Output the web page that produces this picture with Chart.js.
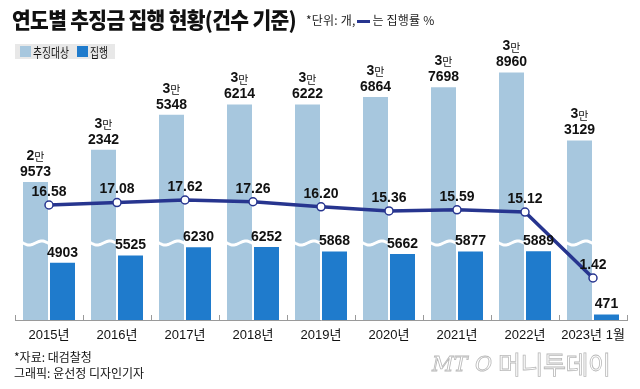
<!DOCTYPE html>
<html>
<head>
<meta charset="utf-8">
<script src="https://cdn.jsdelivr.net/npm/chart.js@4.4.1/dist/chart.umd.min.js"></script>
<style>
  body { margin: 0; background: #fff; }
  #wrap { position: relative; width: 640px; height: 389px; overflow: hidden;
          font-family: "Noto Sans CJK KR", "Noto Sans", sans-serif; color: #111; }
  #chart { position: absolute; left: 0; top: 0; }
  .txt { position: absolute; line-height: 1; white-space: nowrap; transform-origin: left center; }
  #title { left: 12px; top: 7px; font-size: 22px; font-weight: 900; letter-spacing: -0.7px; transform: scaleX(0.925); }
  #unit { left: 306px; top: 14px; font-size: 12px; color: #222; letter-spacing: 0.2px; }
  #unit i { display: inline-block; width: 13px; height: 3px; background: #27358f; vertical-align: middle; margin: 0 2px; }
  #legend { left: 15px; top: 44px; width: 100px; height: 15px; background: #e8e8e8; font-size: 13px; }
  #legend span { position: absolute; top: 1px; transform: scaleX(0.75); transform-origin: left center; }
  #legend b { position: absolute; top: 2px; width: 11px; height: 11px; }
  #src { left: 14px; top: 351px; font-size: 12px; }
  #credit { left: 14px; top: 367px; font-size: 12px; }
  #mark { left: 432px; top: 351px; height: 28px; width: 195px; color: transparent;
          -webkit-text-stroke: 0.8px #b8b8b8; }
  #mark em { position: absolute; top: 3px; font-family: "DejaVu Serif", serif; font-size: 21px; }
  #mark span { position: absolute; left: 66px; top: 0; font-size: 25px; letter-spacing: -0.5px; }
</style>
</head>
<body>
<div id="wrap">
  <canvas id="chart" width="640" height="389"></canvas>
  <div class="txt" id="title">연도별 추징금 집행 현황(건수 기준)</div>
  <div class="txt" id="unit">*단위: 개,<i></i>는 집행률 %</div>
  <div class="txt" id="legend">
    <b style="left:5px;background:#a7c7de"></b><span style="left:18px">추징대상</span>
    <b style="left:62px;background:#1f7bcc"></b><span style="left:75px">집행</span>
  </div>
  <div class="txt" id="src">*자료: 대검찰청</div>
  <div class="txt" id="credit">그래픽: 윤선정 디자인기자</div>
  <div class="txt" id="mark"><em style="left:0">MT</em><em style="left:43px">O</em><span>머니투데이</span></div>
</div>
<script>
const years = ['2015년', '2016년', '2017년', '2018년', '2019년', '2020년', '2021년', '2022년', '2023년 1월'];
const targetCount = [29573, 32342, 35348, 36214, 36222, 36864, 37698, 38960, 33129];
const execCount = [4903, 5525, 6230, 6252, 5868, 5662, 5877, 5889, 471];
const execRate = [16.58, 17.08, 17.62, 17.26, 16.20, 15.36, 15.59, 15.12, 1.42];

// 추징대상 막대는 물결 생략 구간만큼 잘라서 그림
const axisCut = 17750;
const cutAt = 6600;

const numFont = 'bold 14px "Liberation Sans", Arial, sans-serif';

const wavePlugin = {
  id: 'wave',
  afterDatasetDraw(chart, args) {
    if (args.index !== 1) return;
    const ctx = chart.ctx;
    const y = chart.scales.y.getPixelForValue(cutAt);
    args.meta.data.forEach(bar => {
      const l = bar.x - bar.width / 2, r = bar.x + bar.width / 2;
      ctx.save();
      ctx.beginPath();
      ctx.rect(l, y - 8, bar.width, 16);
      ctx.clip();
      ctx.beginPath();
      for (let x = l - 2; x <= r + 2; x++) {
        const yy = y + 2 * Math.sin((x - l) / bar.width * 2 * Math.PI);
        if (x === l - 2) ctx.moveTo(x, yy); else ctx.lineTo(x, yy);
      }
      ctx.strokeStyle = '#fff';
      ctx.lineWidth = 3;
      ctx.stroke();
      ctx.restore();
    });
  }
};

const labelPlugin = {
  id: 'labels',
  afterDraw(chart) {
    const ctx = chart.ctx;
    ctx.save();
    ctx.fillStyle = '#111';
    ctx.textBaseline = 'middle';

    // 집행률
    ctx.font = numFont;
    ctx.textAlign = 'center';
    chart.getDatasetMeta(0).data.forEach((p, i) => {
      ctx.fillText(execRate[i].toFixed(2), p.x, p.y - 13);
    });

    // 집행 건수
    chart.getDatasetMeta(2).data.forEach((bar, i) => {
      ctx.fillText(String(execCount[i]), bar.x, bar.y - 10);
    });

    // 추징대상 건수 (만 단위 두 줄)
    chart.getDatasetMeta(1).data.forEach((bar, i) => {
      const v = targetCount[i];
      const man = String(Math.floor(v / 10000));
      const rest = String(v % 10000).padStart(4, '0');
      ctx.font = numFont;
      ctx.textAlign = 'center';
      ctx.fillText(rest, bar.x, bar.y - 10);
      ctx.textAlign = 'left';
      const w1 = ctx.measureText(man).width;
      ctx.font = '11px "Noto Sans CJK KR", sans-serif';
      const w2 = ctx.measureText('만').width;
      const x0 = bar.x - (w1 + w2) / 2;
      ctx.font = numFont;
      ctx.fillText(man, x0, bar.y - 26);
      ctx.font = '11px "Noto Sans CJK KR", sans-serif';
      ctx.fillText('만', x0 + w1, bar.y - 25);
    });

    // x축 눈금
    const xs = chart.scales.x;
    const step = xs.getPixelForValue(1) - xs.getPixelForValue(0);
    ctx.strokeStyle = '#9a9a9a';
    ctx.lineWidth = 1;
    for (let i = 0; i <= years.length; i++) {
      const px = Math.round(xs.getPixelForValue(0) - step / 2 + step * i) + 0.5;
      ctx.beginPath();
      ctx.moveTo(px, xs.top - 5);
      ctx.lineTo(px, xs.top);
      ctx.stroke();
    }
    ctx.restore();
  }
};

new Chart(document.getElementById('chart'), {
  type: 'bar',
  data: {
    labels: years,
    datasets: [
      {
        type: 'line',
        label: '집행률',
        data: execRate,
        yAxisID: 'y2',
        order: 0,
        borderColor: '#27358f',
        borderWidth: 3.5,
        pointRadius: 4,
        pointBorderWidth: 1.5,
        pointBackgroundColor: '#fff',
        pointBorderColor: '#27358f',
        tension: 0
      },
      {
        label: '추징대상',
        data: targetCount.map(v => v - axisCut),
        backgroundColor: '#a7c7de',
        order: 1,
        categoryPercentage: 0.794,
        barPercentage: 0.926
      },
      {
        label: '집행',
        data: execCount,
        backgroundColor: '#1f7bcc',
        order: 2,
        categoryPercentage: 0.794,
        barPercentage: 0.926
      }
    ]
  },
  options: {
    responsive: false,
    animation: false,
    layout: { padding: { left: 15, right: 13, top: 40, bottom: 39 } },
    plugins: { legend: { display: false }, tooltip: { enabled: false } },
    scales: {
      x: {
        grid: { display: false, drawTicks: false },
        border: { display: true, color: '#9a9a9a', width: 1 },
        ticks: {
          color: '#111',
          padding: 8,
          autoSkip: false,
          maxRotation: 0,
          minRotation: 0,
          font: { family: '"Liberation Sans", "Noto Sans CJK KR", sans-serif', size: 13 }
        },
        afterFit(scale) { scale.height = 30; }
      },
      y: { display: false, min: 0, max: 24000 },
      y2: { display: false, min: -7.3, max: 50.85 }
    }
  },
  plugins: [wavePlugin, labelPlugin]
});
</script>
</body>
</html>
